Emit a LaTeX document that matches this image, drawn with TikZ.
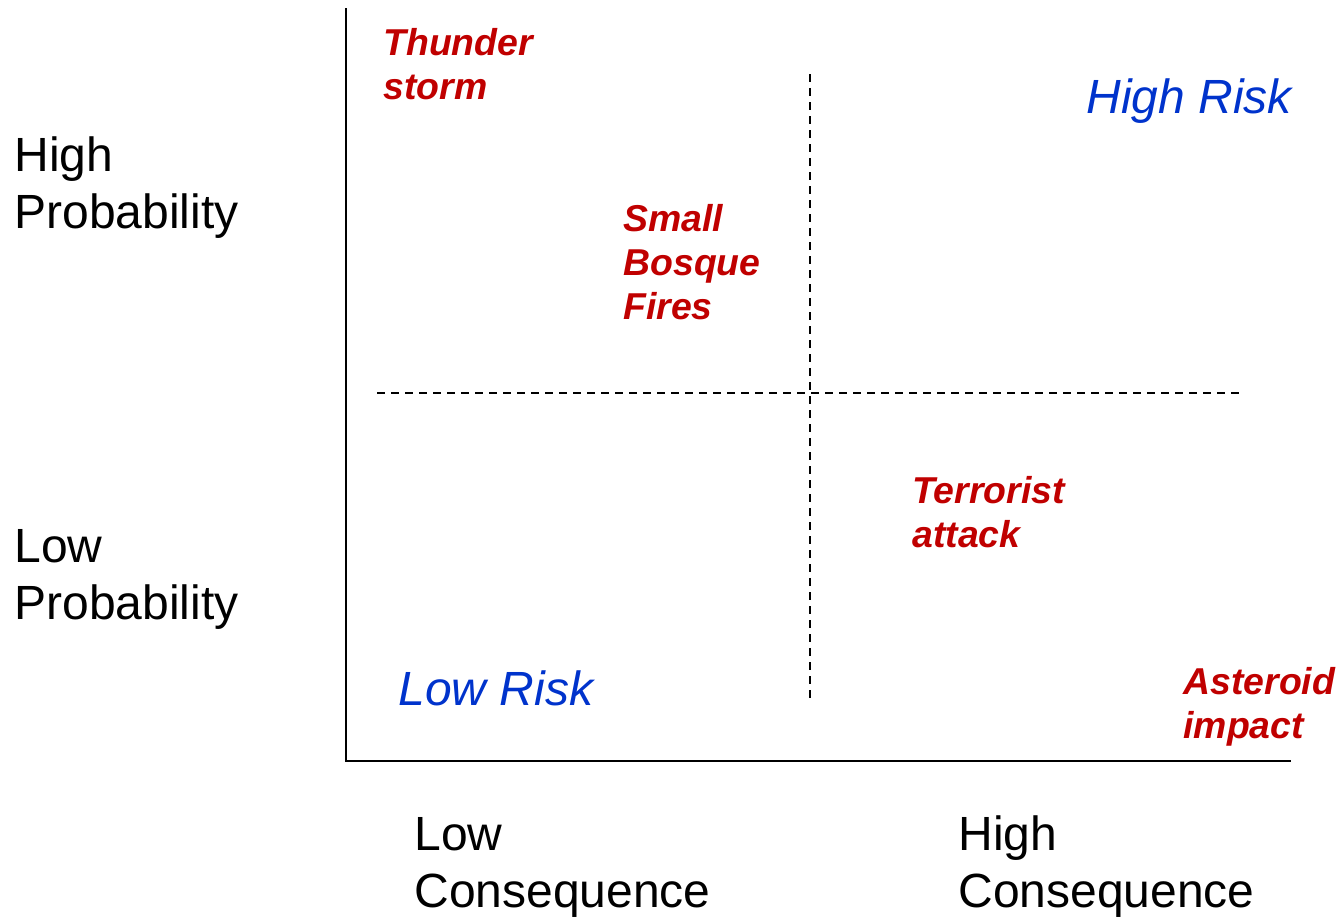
\documentclass[tikz,border=0pt]{standalone}
\usepackage{fontspec}
\setmainfont{Liberation Sans}
\definecolor{hazardred}{HTML}{C00000}
\definecolor{zoneblue}{HTML}{0033CC}

\begin{document}
\begin{tikzpicture}[x=0.5pt,y=-0.5pt,
		lbl/.style={anchor=base west,inner sep=0pt,align=left,font=\fontsize{24}{28.5}\selectfont},
		hazard/.style={anchor=base west,inner sep=0pt,align=left,text=hazardred,font=\fontsize{18.7}{22}\selectfont\bfseries\itshape},
		riskzone/.style={anchor=base west,inner sep=0pt,text=zoneblue,font=\fontsize{24}{28}\selectfont\itshape},
		grid line/.style={line width=0.8pt,dash pattern=on 4pt off 3pt}]
		\useasboundingbox (0,0) rectangle (1339,917);
		\coordinate (origin) at (346,761);
		\coordinate (ytop) at (346,8);
		\coordinate (xend) at (1291,761);
		\coordinate (hleft) at (377,393);
		\coordinate (hright) at (1240,393);
		\coordinate (vtop) at (810,74);
		\coordinate (vbot) at (810,698);
		\draw[line width=1pt] (ytop) -- (origin) -- (xend);
		\draw[grid line] (hleft) -- (hright);
		\draw[grid line] (vtop) -- (vbot);
		% anchors sit on the baseline of the last line
		\node[lbl] (highprob) at (14,228) {High\\Probability};
		\node[lbl] (lowprob) at (14,619) {Low\\Probability};
		\node[lbl] (lowcons) at (414,907) {Low\\Consequence};
		\node[lbl] (highcons) at (958,907) {High\\Consequence};
		\node[hazard] (thunder) at (383,99) {Thunder\\storm};
		\node[hazard] (bosque) at (623,319) {Small\\Bosque\\Fires};
		\node[hazard] (terror) at (912,547) {Terrorist\\attack};
		\node[hazard] (asteroid) at (1183,738) {Asteroid\\impact};
		\node[riskzone] (highrisk) at (1086,113) {High Risk};
		\node[riskzone] (lowrisk) at (398,705) {Low Risk};
	\end{tikzpicture}
\end{document}
